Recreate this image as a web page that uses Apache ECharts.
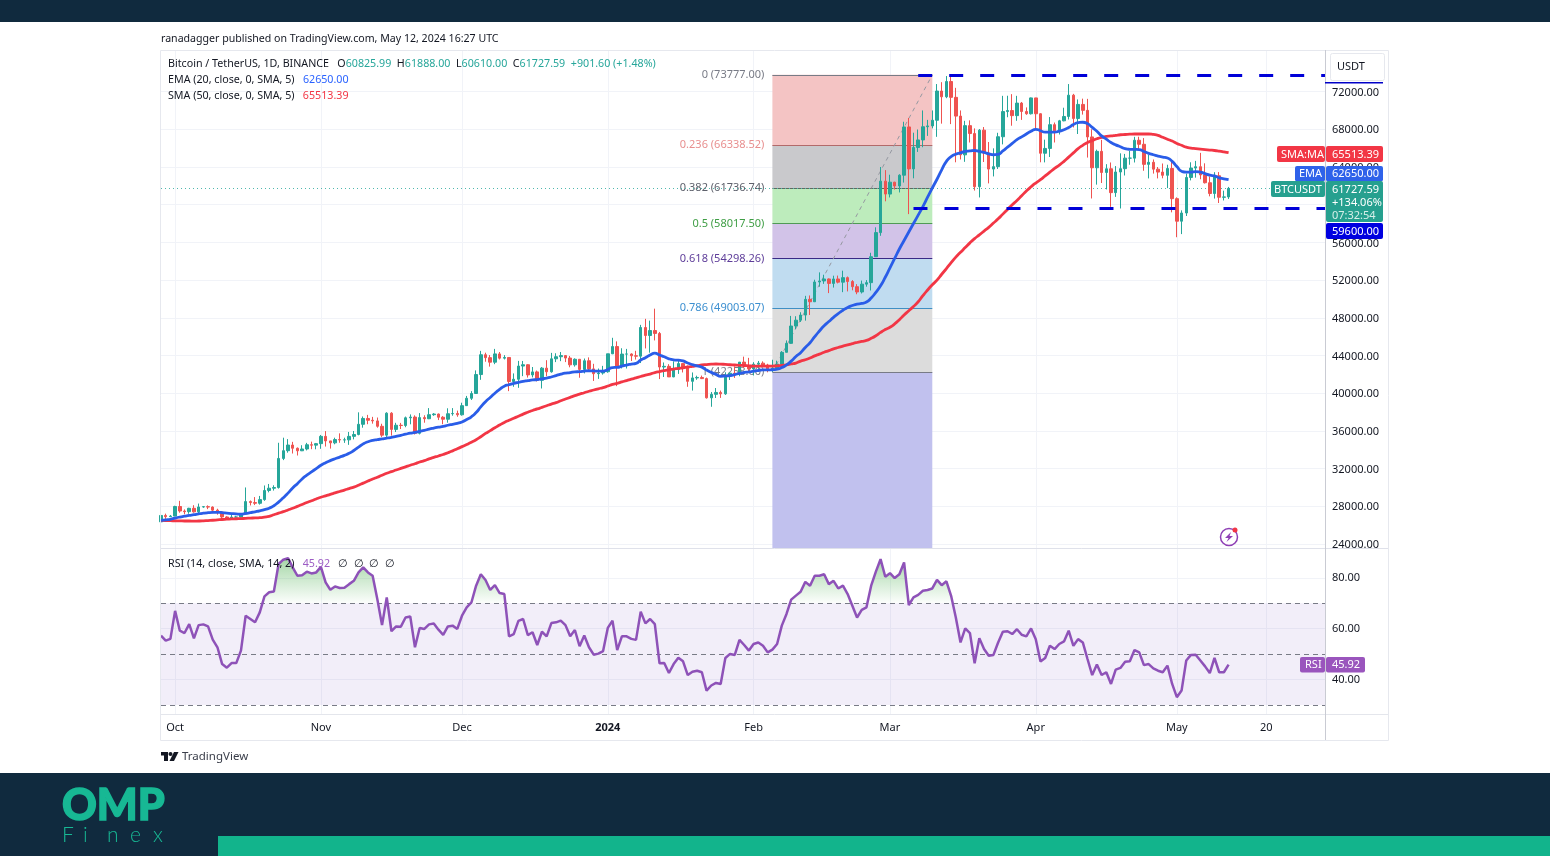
<!DOCTYPE html>
<html>
<head>
<meta charset="utf-8">
<title>BTCUSDT</title>
<script src="https://cdn.jsdelivr.net/npm/echarts@6/dist/echarts.min.js"></script>
<style>
html, body { margin: 0; padding: 0; background: #fff; }
#chart { width: 1550px; height: 856px; }
</style>
</head>
<body>
<div id="chart"></div>
<script>
// daily candles, first one is 28 Sep 2023, last one 12 May 2024 (day index = position in the list)
const opens = [26350,27030,26900,26960,27980,27500,27430,27790,27410,27930,27960,27920,27590,27390,26870,26750,26860,26860,27160,28500,28400,28320,28710,29680,29920,29990,33080,33900,34500,34160,33890,34080,34530,34490,34650,35420,34940,34730,35080,35040,35050,35420,35620,36700,37320,37130,37060,36490,35550,37880,36160,36600,36570,37390,37470,35750,37410,37290,37720,37790,37450,37240,37820,37850,37710,38680,39460,39970,41980,44080,43770,43290,44170,43720,43790,41240,41480,42880,43020,41940,42260,41370,42660,42270,43650,43870,43990,43730,43010,43600,42520,43440,42580,42070,42140,42280,44180,44950,42850,44150,44160,43970,43930,46970,46120,46650,46340,42780,42850,41730,42510,43140,42740,41260,41620,41670,41550,39510,39880,40080,39930,41810,42120,42030,43300,42940,42580,43080,43190,42990,42580,42660,43090,44340,45290,47130,47750,48290,49960,49700,51800,51910,52120,51650,52120,51780,52260,51850,51300,50740,51570,51730,54480,57040,62500,61130,62390,61990,63130,68250,63800,66070,66870,68270,68360,68960,72060,71450,73070,71390,69400,65290,68390,67550,61910,67910,65490,63780,64040,67210,69880,69990,69450,70780,69890,69650,71330,69650,65460,65970,68490,67840,68900,69360,71620,69150,70640,70010,67190,63920,65660,63420,63810,61280,63470,63820,64940,64940,66840,66410,64280,64500,63770,63460,63120,63840,60640,58250,59120,62890,63890,64030,63160,62330,61190,63070,60790,60825.99];
const closes = [27030,26900,26960,27980,27500,27430,27790,27410,27930,27960,27920,27590,27390,26870,26750,26860,26860,27160,28500,28400,28320,28710,29680,29920,29990,33080,33900,34500,34160,33890,34080,34530,34490,34650,35420,34940,34730,35080,35040,35050,35420,35620,36700,37320,37130,37060,36490,35550,37880,36160,36600,36570,37390,37470,35750,37410,37290,37720,37790,37450,37240,37820,37850,37710,38680,39460,39970,41980,44080,43770,43290,44170,43720,43790,41240,41480,42880,43020,41940,42260,41370,42660,42270,43650,43870,43990,43730,43010,43600,42520,43440,42580,42070,42140,42280,44180,44950,42850,44150,44160,43970,43930,46970,46120,46650,46340,42780,42850,41730,42510,43140,42740,41260,41620,41670,41550,39510,39880,40080,39930,41810,42120,42030,43300,42940,42580,43080,43190,42990,42580,42660,43090,44340,45290,47130,47750,48290,49960,49700,51800,51910,52120,51650,52120,51780,52260,51850,51300,50740,51570,51730,54480,57040,62500,61130,62390,61990,63130,68250,63800,66070,66870,68270,68360,68960,72060,71450,73070,71390,69400,65290,68390,67550,61910,67910,65490,63780,64040,67210,69880,69990,69450,70780,69890,69650,71330,69650,65460,65970,68490,67840,68900,69360,71620,69150,70640,70010,67190,63920,65660,63420,63810,61280,63470,63820,64940,64940,66840,66410,64280,64500,63770,63460,63120,63840,60640,58250,59120,62890,63890,64030,63160,62330,61190,63070,60790,60825.99,61727.59];
const lows = [26330,26660,26880,26950,27320,27160,27210,27330,27170,27850,27700,27270,27110,26550,26560,26690,26810,26800,27110,28090,28130,28180,28580,29480,29670,29880,32900,33690,33600,33390,33860,33930,34060,34050,34100,34340,34120,34580,34740,34730,34520,35100,35530,36340,36710,36770,36340,35360,35360,35500,35880,36200,36390,36700,35620,35630,36870,37250,37600,37150,36710,36870,37610,37500,37620,38650,39280,39980,41420,43340,42820,43080,43580,43580,40220,40680,40570,41810,41660,41680,41250,40500,41800,42180,43300,43400,43300,42750,42820,41640,42100,42320,41300,41520,41970,42170,44150,40750,42630,42620,43420,43570,43200,44750,44300,45600,41500,41720,41720,41700,42050,42200,40680,40280,41420,41500,39430,38560,39490,39500,39820,41400,41620,41800,42680,42250,41880,42580,42880,42220,42260,42570,42720,44330,45240,46800,47560,47700,48300,49700,51300,51600,50620,51210,51650,50720,50800,50920,50500,50580,51300,50900,54450,56700,60360,60770,61600,61300,62350,59000,62800,65600,66100,67300,68100,67200,68600,71300,68550,64500,64800,64550,66600,61500,60770,64530,62260,63000,63790,66400,69280,68380,68900,69000,69540,69570,68060,64500,64490,65060,66600,67450,68850,69040,68200,67500,69560,65000,60660,62130,62300,61620,59770,60830,59600,63100,64240,64480,65800,63600,62790,63300,62790,62800,61760,59190,56550,56880,58800,62580,62870,62700,62250,60890,60650,60180,60450,60610];
const highs = [27300,27220,27080,28060,28580,27670,27840,28120,28290,28030,28100,27990,27740,27480,26950,27100,26990,27290,30000,28620,28980,29100,30210,30370,30230,34740,35280,35130,34840,34240,34480,34730,34860,34720,35570,35980,34940,35280,35740,35280,35890,35990,37970,37530,37700,37490,37420,36760,37980,37990,36860,36850,37520,37750,37650,37890,37660,38420,37890,37840,37570,38400,38420,38150,38990,39710,40220,42420,44490,44300,44050,44700,44370,44040,43790,42100,43430,43420,43080,42780,42400,42770,43500,44280,44240,44370,43800,43950,43700,43600,43680,43800,43120,42620,42900,44180,45880,45500,44770,44700,44230,44500,47250,47890,47700,48970,46500,43260,43080,43380,43580,43200,42930,42200,41860,41870,41660,40130,40550,40280,42220,42200,42840,43310,43880,43750,43290,43420,43380,43120,43550,43450,44470,45600,48200,48170,48590,50330,50370,52040,52820,52570,52180,52470,52480,53000,52380,52000,51570,51950,52000,54900,57600,64000,63670,63180,62430,63230,68800,69200,67640,67980,70000,69000,70000,72800,73000,73650,73777,72400,70000,68900,68950,68100,68030,68240,66650,65980,67630,71550,71560,71730,71550,70900,70320,71370,71290,69700,66900,69300,68720,69000,70290,72800,71760,71170,71250,71230,68000,65840,66880,64300,64480,64100,65450,65390,65700,67200,67210,67070,65280,64800,64000,64370,64240,64730,60780,59400,63300,64500,64650,65500,64390,63000,63450,63460,61490,61888];
const ema20 = [26500,26560,26620,26750,26860,26950,27040,27110,27200,27270,27320,27350,27360,27330,27280,27230,27190,27170,27240,27330,27420,27520,27640,27800,28060,28450,28900,29400,29950,30400,30900,31300,31650,32000,32350,32620,32850,33050,33220,33400,33620,33920,34270,34620,34850,35000,35080,35150,35230,35320,35420,35530,35650,35760,35840,35950,36060,36190,36300,36400,36480,36600,36700,36800,36950,37200,37500,37950,38550,39100,39550,40000,40400,40750,40900,41050,41150,41250,41330,41410,41450,41530,41600,41720,41870,42020,42130,42190,42270,42280,42350,42380,42360,42340,42350,42510,42720,42740,42870,42990,43080,43160,43520,43770,44050,44260,44050,43860,43650,43540,43500,43420,43200,43030,42900,42770,42460,42210,42000,41800,41830,41860,41970,42100,42200,42260,42340,42410,42470,42480,42490,42550,42720,43000,43400,43900,44300,44850,45350,46000,46600,47150,47600,48050,48450,48800,49100,49300,49450,49520,49670,50100,50700,51400,52300,53300,54300,55300,56200,57100,58000,58900,59800,60800,61770,62700,63700,64600,65100,65350,65500,65650,65700,65750,65650,65550,65400,65300,65350,65700,66100,66500,66900,67200,67500,67800,68000,67850,67700,67700,67700,67800,67950,68200,68500,68700,68750,68600,68200,67800,67300,66950,66600,66350,66150,65950,65880,65870,65850,65650,65450,65300,65150,65050,64950,64600,64050,63550,63450,63450,63500,63450,63300,63130,63050,62850,62750,62650];
const sma50 = [26500,26480,26470,26460,26450,26440,26440,26430,26440,26460,26490,26520,26560,26600,26630,26660,26680,26700,26720,26750,26770,26800,26860,26940,27100,27270,27430,27610,27790,27990,28190,28400,28590,28780,28960,29110,29270,29420,29570,29720,29880,30040,30240,30460,30680,30890,31090,31290,31500,31680,31850,32020,32190,32360,32520,32700,32850,33030,33190,33340,33500,33680,33880,34100,34330,34560,34800,35060,35380,35730,36030,36340,36620,36900,37130,37340,37560,37780,37980,38170,38330,38500,38670,38840,39000,39200,39380,39560,39740,39900,40050,40210,40340,40470,40600,40760,40940,41050,41200,41340,41490,41620,41770,41920,42030,42190,42300,42400,42480,42560,42640,42700,42780,42850,42920,43000,43040,43080,43100,43090,43050,43020,42990,42960,42940,42900,42880,42880,42880,42870,42880,42900,42950,43000,43100,43200,43400,43550,43730,43960,44150,44350,44520,44700,44850,45000,45130,45260,45380,45490,45600,45820,46100,46450,46750,47000,47350,47800,48300,48750,49200,49700,50350,50950,51500,52000,52620,53220,53850,54440,54950,55450,55950,56400,56800,57200,57600,58050,58500,59000,59500,60000,60450,60950,61450,61900,62300,62650,63050,63450,63850,64200,64600,65050,65500,65950,66300,66600,66800,67000,67150,67250,67300,67360,67420,67450,67480,67500,67500,67500,67500,67450,67350,67150,66950,66750,66500,66300,66100,66000,65950,65900,65850,65800,65750,65680,65600,65513.39];
const rsi14 = [57.3,55.3,56,67,59.2,58.3,61.8,56.2,61.4,61.7,60.9,55.7,52.7,46.1,44.7,46.5,46.5,51.4,65.1,63.8,62.5,66.4,72.7,74.3,74.6,85.4,87.1,87.7,84.1,80.8,81,82.4,81.7,82.1,84.3,78.2,75.3,76.6,76,76.1,77.5,78.8,82.1,84.1,82.1,80.8,71.6,61.4,72.3,59,60.9,60.8,64.4,64.8,52.7,60.3,59.9,61.7,62,59.6,57.6,60.9,61.2,59.9,65.1,68.4,70.3,76.9,81.4,79.1,75.2,77.1,74,73.6,57,57.9,63.1,63.8,57.5,58.6,53.6,58.8,57,62.2,62.5,63.2,61.4,57,59.5,53.1,57.3,52.7,49.8,50.2,51.2,60.3,63.1,51.6,57,57,56,55.6,66.7,62.1,63.8,61.8,46.4,46.5,42.6,46.1,48.6,47.2,41.8,43.1,43.5,42.9,35.7,37.7,38.7,38.3,48.5,50.1,49.7,55.6,53.6,51.4,54,54.6,53.3,50.7,51.8,54,61.2,65.8,71.4,73,74.5,78.4,76.9,80.8,80.8,81.4,77.5,78.8,75.8,76.9,73.6,69,64.4,67.4,68.4,76.9,82.4,87.3,80.4,81.8,79.9,81.4,86,69.3,72.3,73.3,74.9,75.2,75.8,79.2,77.1,78.6,72.9,64.4,54.6,60.1,58.3,46.4,56.3,52,49.4,49.7,54.6,58.8,59,57.9,59.8,57.6,57,60.1,55.9,47.1,48.5,53.3,52,54,55,59.2,53.3,55.9,54.6,48.1,41.8,45.9,41.8,42.9,38.3,43.9,44.6,47,47.2,51.6,50.7,45.7,46.1,44.4,43.5,42.9,45.5,38.3,33.1,35.7,47.5,49.7,49.8,47.5,45.2,42.6,48.5,42.9,42.9,45.92];

const priceTicks = [24000,28000,32000,36000,40000,44000,48000,52000,56000,60000,64000,68000,72000];
const rsiTicks = [40,60,80];
const rsiLevels = [30,50,70];
const timeTicks = [3,34,64,95,126,155,186,216,235];
const timeLabels = ['Oct','Nov','Dec','2024','Feb','Mar','Apr','May','20'];

const fibRatios = ['0','0.236','0.382','0.5','0.618','0.786','1'];
const fibPrices = [73777,66338.52,61736.74,58017.5,54298.26,49003.07,42258];
const fibLineColors = ['#787b86','#b26a6a','#5f6b5f','#4f9a55','#3a2a86','#3f8fc4','#787b86'];
const fibTextColors = ['#787b86','#e88f8f','#5d606b','#3f9e45','#5e3d99','#3c8fd0','#787b86'];
const fibFills = ['#f4c4c4','#c9c9cc','#bdecbc','#d2c3e8','#c0dcf0','#dcdcdc','#c1c1ee'];
const fibBottom = 23576;
const fibStartDay = 130;
const fibEndDay = 164;

const resistance = 73777;
const support = 59600;
const lastPrice = 61727.59;

const FONT = '"Noto Sans", sans-serif';
const UP = '#26a69a', DOWN = '#ef5350';

function tx(x, y, text, color, size, extra) {
  return { type: 'text', x: x, y: y + 0.7, z: 100, silent: true, style: Object.assign({
    text: text, fill: color || '#131722', font: (size || 11) + 'px ' + FONT, verticalAlign: 'middle'
  }, extra || {}) };
}
function box(x, y, w, h, color, r) {
  return { type: 'rect', z: 99, silent: true, shape: { x: x, y: y, width: w, height: h, r: r || 0 }, style: { fill: color } };
}
function seg(x1, y1, x2, y2, color) {
  return { type: 'line', z: 50, silent: true, shape: { x1: x1, y1: y1, x2: x2, y2: y2 }, style: { stroke: color, lineWidth: 1 } };
}

const LEGEND_SIZE = 10.7;
const txtRich = {
  k: { fill: '#131722', fontSize: LEGEND_SIZE, fontFamily: 'Noto Sans' },
  g: { fill: '#26a69a', fontSize: LEGEND_SIZE, fontFamily: 'Noto Sans' },
  b: { fill: '#2962ff', fontSize: LEGEND_SIZE, fontFamily: 'Noto Sans' },
  r: { fill: '#f23645', fontSize: LEGEND_SIZE, fontFamily: 'Noto Sans' },
  p: { fill: '#9c5cc4', fontSize: LEGEND_SIZE, fontFamily: 'Noto Sans' }
};
const logoThin = { font: '300 21px Lato, sans-serif' };

const graphic = [
  box(0, 0, 1550, 22, '#102a3e'),
  box(0, 773, 1550, 83, '#102a3e'),
  box(218, 836, 1332, 20, '#12b48c'),

  // chart frame
  { type: 'rect', z: 50, silent: true, shape: { x: 160.5, y: 50.5, width: 1228, height: 690 }, style: { fill: 'none', stroke: '#e6e8ee', lineWidth: 1 } },
  seg(161, 548.5, 1388, 548.5, '#dfe1ea'),
  seg(161, 714.5, 1388, 714.5, '#e4e6ec'),
  seg(1325.5, 50, 1325.5, 740, '#c9cbd3'),

  tx(161, 38.5, 'ranadagger published on TradingView.com, May 12, 2024 16:27 UTC', '#131722', 10.6),
  { type: 'text', x: 168, y: 64, z: 100, silent: true, style: { verticalAlign: 'middle', rich: txtRich,
    text: '{k|Bitcoin / TetherUS, 1D, BINANCE   O}{g|60825.99}{k|  H}{g|61888.00}{k|  L}{g|60610.00}{k|  C}{g|61727.59}{g|  +901.60 (+1.48%)}' } },
  { type: 'text', x: 168, y: 80, z: 100, silent: true, style: { verticalAlign: 'middle', rich: txtRich,
    text: '{k|EMA (20, close, 0, SMA, 5)   }{b|62650.00}' } },
  { type: 'text', x: 168, y: 96, z: 100, silent: true, style: { verticalAlign: 'middle', rich: txtRich,
    text: '{k|SMA (50, close, 0, SMA, 5)   }{r|65513.39}' } },
  { type: 'text', x: 168, y: 563.5, z: 100, silent: true, style: { verticalAlign: 'middle', rich: txtRich,
    text: '{k|RSI (14, close, SMA, 14, 2)   }{p|45.92}{k|   ∅  ∅  ∅  ∅}' } },

  // USDT box on the price scale
  { type: 'rect', z: 99, silent: true, shape: { x: 1330.5, y: 53.5, width: 54, height: 27, r: 2 }, style: { fill: '#fff', stroke: '#e6e8ee' } },
  tx(1337, 66, 'USDT', '#131722', 11),
  box(1325, 82, 58, 1.5, '#0000c8'),

  // price tags
  box(1277, 146, 48, 16, '#f23645', 2), tx(1281, 154, 'SMA:MA', '#fff'),
  box(1326, 146, 57, 16, '#f23645', 2), tx(1332, 154, '65513.39', '#fff'),
  box(1295, 166, 30, 15.5, '#2f62ea', 2), tx(1299, 173.5, 'EMA', '#fff'),
  box(1326, 166, 57, 15.5, '#2f62ea', 2), tx(1332, 173.5, '62650.00', '#fff'),
  box(1271, 181, 54, 16, '#26a08f', 2), tx(1274, 189, 'BTCUSDT', '#fff'),
  box(1326, 181, 57, 41, '#26a08f', 2), tx(1332, 189, '61727.59', '#fff'), tx(1332, 202, '+134.06%', '#fff'), tx(1332, 215, '07:32:54', '#d7efe9'),
  box(1326, 223, 57, 16, '#0000e0', 2), tx(1332, 231, '59600.00', '#fff'),
  box(1300, 657, 25, 15.5, '#9a55bd', 2), tx(1305, 664.5, 'RSI', '#fff'),
  box(1326, 657, 39, 15.5, '#9a55bd', 2), tx(1332, 664.5, '45.92', '#fff'),

  // lightning badge
  { type: 'circle', z: 100, silent: true, shape: { cx: 1229, cy: 537, r: 8.5 }, style: { fill: '#fff', stroke: '#8e3fb5', lineWidth: 1.5 } },
  { type: 'polygon', z: 101, silent: true, shape: { points: [[1231,532],[1225,538],[1228.5,538],[1226.5,542],[1233,536],[1229.5,536]] }, style: { fill: '#8e3fb5' } },
  { type: 'circle', z: 102, silent: true, shape: { cx: 1235, cy: 530, r: 2.5 }, style: { fill: '#f23645' } },

  // TradingView mark
  { type: 'polygon', z: 100, silent: true, shape: { points: [[161,752],[168,752],[168,761],[164,761],[164,755.5],[161,755.5]] }, style: { fill: '#131722' } },
  { type: 'circle', z: 100, silent: true, shape: { cx: 170.5, cy: 754, r: 2 }, style: { fill: '#131722' } },
  { type: 'polygon', z: 100, silent: true, shape: { points: [[174,752],[178.5,752],[174,761],[169.5,761]] }, style: { fill: '#131722' } },
  tx(182, 756.5, 'TradingView', '#3a3e4a', 11.5),

  // OMP Finex logo
  tx(62, 805.5, 'OMP', '#17b894', 43, { font: '900 43px Lato, sans-serif', stroke: '#17b894', lineWidth: 1.5 }),
  tx(62, 835, 'F', '#17b894', 21, logoThin),
  tx(83, 835, 'i', '#17b894', 21, logoThin),
  tx(107, 835, 'n', '#17b894', 21, logoThin),
  tx(130, 835, 'e', '#17b894', 21, logoThin),
  tx(153, 835, 'x', '#17b894', 21, logoThin)
];

const dayData = arr => arr.map((v, i) => [i, v]);
const hLine = (day0, day1, price) => [{ coord: [day0, price] }, { coord: [day1, price] }];

const fibAreas = fibPrices.map((p, i) => [
  { xAxis: fibStartDay, yAxis: p, itemStyle: { color: fibFills[i] } },
  { xAxis: fibEndDay, yAxis: i + 1 < fibPrices.length ? fibPrices[i + 1] : fibBottom }
]);
const fibLines = fibPrices.map((p, i) => {
  const pair = hLine(fibStartDay, fibEndDay, p);
  pair[0].lineStyle = { color: fibLineColors[i], width: 1, type: 'solid' };
  pair[0].label = {
    show: true, position: 'start', distance: 8, color: fibTextColors[i], fontSize: 11, fontFamily: 'Noto Sans',
    formatter: fibRatios[i] + ' (' + p.toFixed(2) + ')'
  };
  return pair;
});
const fibTrend = [{ coord: [fibStartDay, fibPrices[6]], lineStyle: { color: '#9598a1', width: 1, type: [4, 4] }, label: { show: false } }, { coord: [fibEndDay, fibPrices[0]] }];

const xCommon = {
  type: 'value', min: 0, max: 247.5,
  axisLine: { show: false },
  axisTick: { show: false, customValues: timeTicks },
  splitLine: { show: true, lineStyle: { color: '#f1f3f8', width: 1 } }
};
const yCommon = {
  type: 'value', position: 'right',
  axisLine: { show: false },
  splitLine: { show: true, lineStyle: { color: '#f1f3f8', width: 1 } }
};

const chart = echarts.init(document.getElementById('chart'));
chart.setOption({
  animation: false,
  backgroundColor: '#fff',
  textStyle: { fontFamily: 'Noto Sans' },
  graphic: graphic,
  grid: [
    { left: 161, top: 50, width: 1164, height: 498 },
    { left: 161, top: 549, width: 1164, height: 165 }
  ],
  xAxis: [
    Object.assign({ gridIndex: 0, axisLabel: { show: false, customValues: timeTicks } }, xCommon),
    Object.assign({ gridIndex: 1, axisLabel: {
      show: true, customValues: timeTicks, margin: 8, color: '#131722', fontSize: 11, hideOverlap: false,
      formatter: v => {
        const name = timeLabels[timeTicks.indexOf(v)];
        return name === '2024' ? '{y|2024}' : name;
      },
      rich: { y: { fontWeight: 'bold', fontSize: 11, color: '#131722' } }
    } }, xCommon)
  ],
  yAxis: [
    Object.assign({ gridIndex: 0, min: 23576, max: 76414,
      axisTick: { show: false, customValues: priceTicks },
      axisLabel: { customValues: priceTicks, margin: 7, color: '#131722', fontSize: 11,
        formatter: v => '{p|' + v.toFixed(2) + '}',
        rich: { p: { fontSize: 11, color: '#131722', padding: [2, 0, 0, 0] } } }
    }, yCommon),
    Object.assign({ gridIndex: 1, min: 26.5, max: 91.3,
      axisTick: { show: false, customValues: rsiTicks },
      axisLabel: { customValues: rsiTicks, margin: 7, color: '#131722', fontSize: 11, formatter: v => v.toFixed(2) }
    }, yCommon)
  ],
  series: [
    {
      name: 'Fib', type: 'line', xAxisIndex: 0, yAxisIndex: 0, data: [], z: 1, silent: true,
      markArea: { silent: true, z: 1, label: { show: false }, data: fibAreas },
      markLine: { silent: true, z: 1, symbol: 'none', data: fibLines.concat([fibTrend]) }
    },
    {
      name: 'BTCUSDT', type: 'candlestick', xAxisIndex: 0, yAxisIndex: 0, z: 3, barWidth: 3,
      data: opens.map((o, i) => [i, o, closes[i], lows[i], highs[i]]),
      itemStyle: { color: UP, color0: DOWN, borderColor: UP, borderColor0: DOWN, borderWidth: 1 },
      markLine: {
        silent: true, z: 2, symbol: 'none', label: { show: false },
        lineStyle: { color: '#4fb8ad', width: 1, type: [1, 3] },
        data: [[{ coord: [0, lastPrice] }, { coord: [247.5, lastPrice] }]]
      }
    },
    {
      name: 'SMA', type: 'line', xAxisIndex: 0, yAxisIndex: 0, z: 4, data: dayData(sma50), showSymbol: false, smooth: 0.6,
      lineStyle: { color: '#f23645', width: 2.8 }
    },
    {
      name: 'EMA', type: 'line', xAxisIndex: 0, yAxisIndex: 0, z: 5, data: dayData(ema20), showSymbol: false, smooth: 0.6,
      lineStyle: { color: '#2a5de8', width: 2.8 },
      markLine: {
        silent: true, z: 6, symbol: 'none', label: { show: false },
        lineStyle: { color: '#0000d8', width: 3, type: [14, 17] },
        data: [hLine(161, 247.5, resistance), hLine(160, 247.5, support)]
      }
    },
    {
      name: 'RSI', type: 'line', xAxisIndex: 1, yAxisIndex: 1, z: 4, data: dayData(rsi14), showSymbol: false,
      lineStyle: { color: '#8e52b8', width: 2.5 },
      areaStyle: {
        origin: 70, opacity: 1,
        color: new echarts.graphic.LinearGradient(0, 549, 0, 715, [
          { offset: 0, color: 'rgba(76,175,80,0.6)' },
          { offset: 0.325, color: 'rgba(76,175,80,0.02)' },
          { offset: 0.326, color: 'rgba(76,175,80,0)' },
          { offset: 1, color: 'rgba(76,175,80,0)' }
        ], true)
      },
      markArea: {
        silent: true, z: 1, label: { show: false }, itemStyle: { color: 'rgba(126,87,194,0.1)' },
        data: [[{ xAxis: 0, yAxis: rsiLevels[0] }, { xAxis: 247.5, yAxis: rsiLevels[2] }]]
      },
      markLine: {
        silent: true, z: 2, symbol: 'none', label: { show: false },
        lineStyle: { color: '#787b86', width: 1, type: [5, 4] },
        data: rsiLevels.map(l => hLine(0, 247.5, l))
      }
    }
  ]
});
</script>
</body>
</html>
